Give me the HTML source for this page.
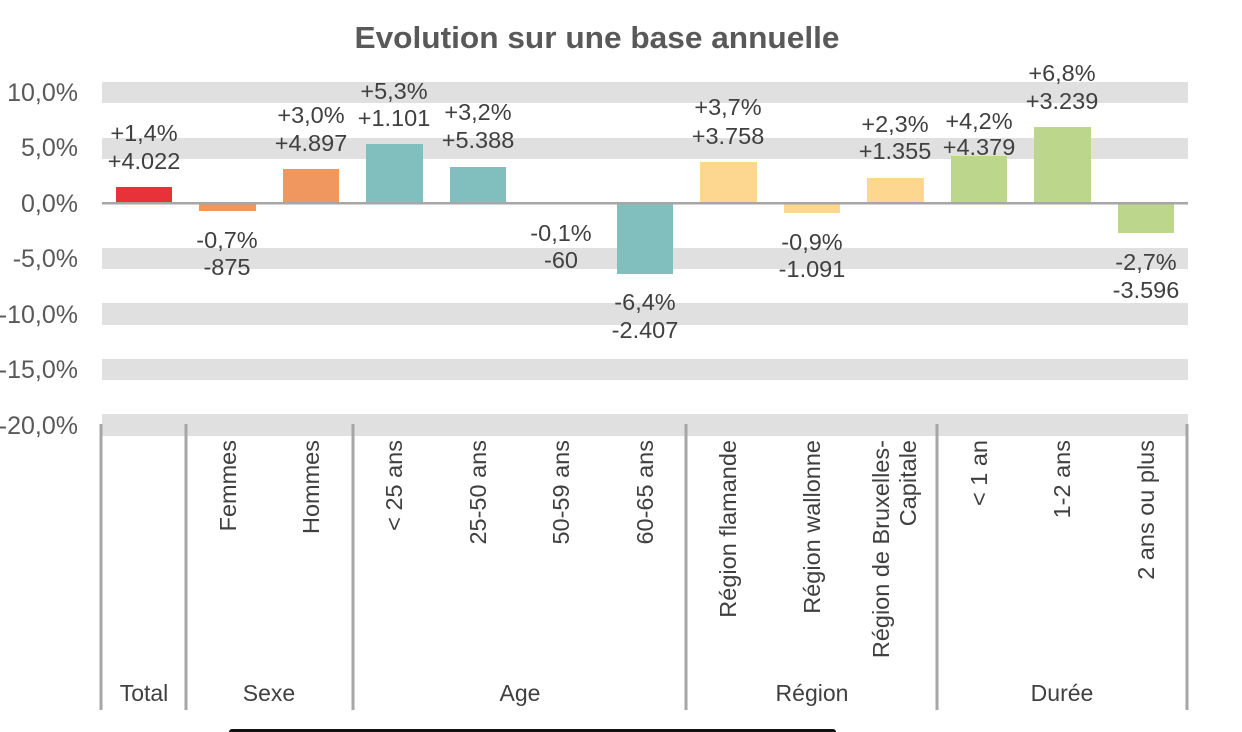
<!DOCTYPE html>
<html><head><meta charset="utf-8"><style>
html,body{margin:0;padding:0;background:#fff;}
svg{display:block;font-family:"Liberation Sans",Arial,sans-serif;}
</style></head><body>
<svg width="1242" height="732" viewBox="0 0 1242 732" xmlns="http://www.w3.org/2000/svg">
<text x="597" y="48" text-anchor="middle" font-size="31" font-weight="bold" fill="#595959" textLength="485" lengthAdjust="spacingAndGlyphs">Evolution sur une base annuelle</text>
<g fill="#e0e0e0">
<rect x="102" y="82" width="1086" height="21"/>
<rect x="102" y="138" width="1086" height="21"/>
<rect x="102" y="248" width="1086" height="21"/>
<rect x="102" y="303" width="1086" height="22"/>
<rect x="102" y="359" width="1086" height="21"/>
<rect x="102" y="414" width="1086" height="22"/>
</g>
<g font-size="25" fill="#595959" text-anchor="end">
<text x="78" y="101">10,0%</text>
<text x="78" y="156">5,0%</text>
<text x="78" y="212">0,0%</text>
<text x="78" y="267">-5,0%</text>
<text x="78" y="323">-10,0%</text>
<text x="78" y="378">-15,0%</text>
<text x="78" y="434">-20,0%</text>
</g>
<g>
<rect x="116" y="187" width="56" height="16" fill="#e8323a"/>
<rect x="199" y="203" width="57" height="8" fill="#f0975f"/>
<rect x="283" y="169" width="56" height="34" fill="#f0975f"/>
<rect x="366" y="144" width="57" height="59" fill="#80bfbe"/>
<rect x="450" y="167" width="56" height="36" fill="#80bfbe"/>
<rect x="533" y="203" width="57" height="1" fill="#80bfbe"/>
<rect x="617" y="203" width="56" height="71" fill="#80bfbe"/>
<rect x="700" y="162" width="57" height="41" fill="#fdd68f"/>
<rect x="784" y="203" width="56" height="10" fill="#fdd68f"/>
<rect x="867" y="178" width="57" height="25" fill="#fdd68f"/>
<rect x="951" y="156" width="56" height="47" fill="#bcd68c"/>
<rect x="1034" y="127" width="57" height="76" fill="#bcd68c"/>
<rect x="1118" y="203" width="56" height="30" fill="#bcd68c"/>
</g>
<rect x="102" y="202" width="1086" height="2.5" fill="#a6a6a6"/>
<g font-size="23.5" fill="#404040" text-anchor="middle">
<text x="144" y="141">+1,4%</text><text x="144" y="169">+4.022</text>
<text x="227" y="248">-0,7%</text><text x="227" y="275">-875</text>
<text x="311" y="123">+3,0%</text><text x="311" y="151">+4.897</text>
<text x="394" y="99">+5,3%</text><text x="394" y="126">+1.101</text>
<text x="478" y="120">+3,2%</text><text x="478" y="148">+5.388</text>
<text x="561" y="241">-0,1%</text><text x="561" y="268">-60</text>
<text x="645" y="310">-6,4%</text><text x="645" y="338">-2.407</text>
<text x="728" y="115">+3,7%</text><text x="728" y="144">+3.758</text>
<text x="812" y="250">-0,9%</text><text x="812" y="277">-1.091</text>
<text x="895" y="132">+2,3%</text><text x="895" y="159">+1.355</text>
<text x="979" y="129">+4,2%</text><text x="979" y="155">+4.379</text>
<text x="1062" y="81">+6,8%</text><text x="1062" y="109">+3.239</text>
<text x="1146" y="270">-2,7%</text><text x="1146" y="298">-3.596</text>
</g>
<g stroke="#a6a6a6" stroke-width="3">
<line x1="101" y1="424" x2="101" y2="710"/>
<line x1="186" y1="424" x2="186" y2="710"/>
<line x1="353" y1="424" x2="353" y2="710"/>
<line x1="686" y1="424" x2="686" y2="710"/>
<line x1="937" y1="424" x2="937" y2="710"/>
<line x1="1187" y1="424" x2="1187" y2="710"/>
</g>
<g font-size="23.5" fill="#404040" text-anchor="end" dominant-baseline="central">
<text transform="translate(228,440) rotate(-90)">Femmes</text>
<text transform="translate(311,440) rotate(-90)">Hommes</text>
<text transform="translate(394,440) rotate(-90)">&lt; 25 ans</text>
<text transform="translate(478,440) rotate(-90)">25-50 ans</text>
<text transform="translate(561,440) rotate(-90)">50-59 ans</text>
<text transform="translate(645,440) rotate(-90)">60-65 ans</text>
<text transform="translate(728,440) rotate(-90)">Région flamande</text>
<text transform="translate(812,440) rotate(-90)">Région wallonne</text>
<text transform="translate(881,440) rotate(-90)">Région de Bruxelles-</text>
<text transform="translate(908,440) rotate(-90)">Capitale</text>
<text transform="translate(979,440) rotate(-90)">&lt; 1 an</text>
<text transform="translate(1062,440) rotate(-90)">1-2 ans</text>
<text transform="translate(1146,440) rotate(-90)">2 ans ou plus</text>
</g>
<g font-size="23" fill="#404040" text-anchor="middle">
<text x="144" y="701">Total</text>
<text x="269" y="701">Sexe</text>
<text x="520" y="701">Age</text>
<text x="812" y="701">Région</text>
<text x="1062" y="701">Durée</text>
</g>
<rect x="229" y="729" width="607" height="8" rx="3" fill="#111"/>
</svg>
</body></html>
